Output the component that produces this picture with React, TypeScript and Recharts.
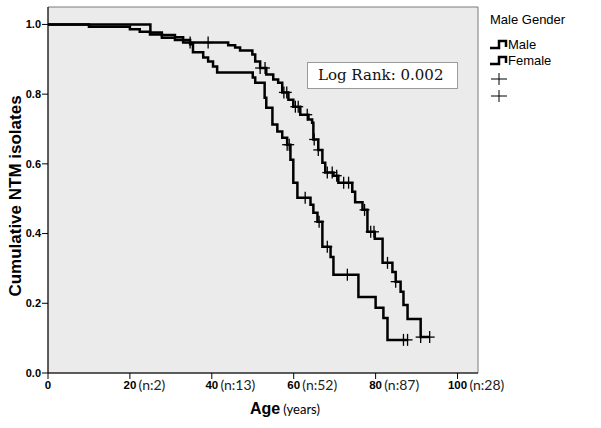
import React from "react";
import {
  ComposedChart,
  Line,
  Scatter,
  XAxis,
  YAxis,
  CartesianGrid,
  ReferenceArea,
} from "recharts";

// step points (age, cumulative value after the step)
const maleAges = [0, 10.0, 20.0, 22.4, 24.9, 27.8, 31.0, 34.7, 35.4, 37.9, 39.1, 40.3, 41.3, 50.0, 50.6, 52.9, 53.3, 54.8, 56.0, 57.2, 58.4, 59.2, 59.9, 60.9, 64.1, 64.8, 65.8, 67.0, 69.0, 69.7, 75.8, 80.0, 81.9, 82.9, 87.8];
const maleSurv = [1.0, 0.993, 0.986, 0.979, 0.971, 0.962, 0.955, 0.943, 0.92, 0.905, 0.894, 0.879, 0.862, 0.848, 0.833, 0.79, 0.761, 0.713, 0.693, 0.675, 0.655, 0.612, 0.546, 0.503, 0.483, 0.46, 0.434, 0.362, 0.333, 0.282, 0.218, 0.187, 0.158, 0.095, 0.095];
const maleCensored = [58.4, 58.9, 62.8, 66.2, 68.2, 73.1, 86.8, 87.8];

const femaleAges = [0, 25.0, 27.8, 31.0, 33.0, 44.0, 45.7, 46.9, 49.9, 50.6, 51.8, 53.3, 55.0, 56.2, 57.2, 58.7, 59.9, 61.6, 63.6, 64.5, 64.8, 66.0, 67.0, 67.7, 69.7, 70.9, 74.3, 75.0, 76.8, 78.0, 79.8, 81.7, 84.1, 84.9, 86.1, 86.8, 87.8, 91.0, 93.2];
const femaleSurv = [1.0, 0.977, 0.97, 0.963, 0.948, 0.94, 0.934, 0.925, 0.914, 0.894, 0.875, 0.856, 0.842, 0.833, 0.805, 0.784, 0.764, 0.741, 0.727, 0.718, 0.67, 0.64, 0.603, 0.575, 0.566, 0.546, 0.52, 0.49, 0.468, 0.405, 0.385, 0.316, 0.29, 0.262, 0.233, 0.195, 0.155, 0.103, 0.103];
const femaleCensored = [34.7, 39.1, 51.8, 53.0, 57.6, 58.3, 60.4, 61.1, 63.3, 65.0, 66.0, 68.2, 69.4, 70.5, 72.2, 73.4, 77.3, 78.8, 79.6, 82.9, 84.9, 91.0, 93.2];

const xTicks = [0, 20, 40, 60, 80, 100];
const xTickCounts = ["", "(n:2)", "(n:13)", "(n:52)", "(n:87)", "(n:28)"];
const yTicks = [0, 0.2, 0.4, 0.6, 0.8, 1.0];

const toRows = (ages: number[], surv: number[]) =>
  ages.map((a, i) => ({ a, s: surv[i] }));

// value of the step curve at a censored age
const stepAt = (ages: number[], surv: number[], t: number) => {
  let v = surv[0];
  ages.forEach((a, i) => {
    if (a <= t + 1e-9) v = surv[i];
  });
  return v;
};

const censorRows = (ages: number[], surv: number[], cens: number[]) =>
  cens.map((c) => ({ a: c, s: stepAt(ages, surv, c) }));

const maleData = toRows(maleAges, maleSurv);
const femaleData = toRows(femaleAges, femaleSurv);
const maleCens = censorRows(maleAges, maleSurv, maleCensored);
const femaleCens = censorRows(femaleAges, femaleSurv, femaleCensored);

const Cross = (props: any) => {
  const { cx, cy } = props;
  if (cx == null || cy == null) return null;
  return (
    <g stroke="#000" strokeWidth={1.3}>
      <line x1={cx - 5} x2={cx + 5} y1={cy} y2={cy} />
      <line x1={cx} x2={cx} y1={cy - 6} y2={cy + 6} />
    </g>
  );
};

const XTick = (props: any) => {
  const { x, y, payload } = props;
  const v = payload.value;
  const n = xTickCounts[xTicks.indexOf(v)];
  const half = String(v).length * 3.3;
  return (
    <g>
      <text x={x} y={y} dy="0.71em" textAnchor="middle" fontFamily="Arial, 'Liberation Sans'" fontWeight="bold" fontSize={11.5} fill="#000">
        {v}
      </text>
      {n ? (
        <text x={x + half + 2} y={y - 1} dy="0.71em" fontFamily="Lato" fontSize={14} fill="#222">
          {n}
        </text>
      ) : null}
    </g>
  );
};

const StepIcon = () => (
  <svg width={18} height={12} style={{ display: "block" }}>
    <path d="M0 9 H9 V2 H16 V8" fill="none" stroke="#000" strokeWidth={2.5} />
  </svg>
);

const PlusIcon = () => (
  <svg width={18} height={12} style={{ display: "block" }}>
    <line x1={1} x2={17} y1={6} y2={6} stroke="#000" strokeWidth={1} />
    <line x1={9} x2={9} y1={0} y2={12} stroke="#000" strokeWidth={1} />
  </svg>
);

export default function App() {
  return (
    <div
      style={{
        position: "absolute",
        left: 0,
        top: 0,
        width: 601,
        height: 428,
        background: "#fff",
        fontFamily: "Arial, 'Liberation Sans', sans-serif",
      }}
    >
      <ComposedChart
        width={601}
        height={428}
        margin={{ top: 7, right: 123, bottom: 30, left: 8 }}
      >
        <CartesianGrid horizontal={false} vertical={false} fill="#ebebeb" />
        <XAxis
          type="number"
          dataKey="a"
          domain={[0, 105]}
          ticks={xTicks}
          tick={<XTick />}
          tickSize={6}
          tickMargin={2}
          height={25}
          axisLine={{ stroke: "#000" }}
          tickLine={{ stroke: "#000" }}
          allowDataOverflow
        />
        <YAxis
          type="number"
          dataKey="s"
          domain={[0, 1.05]}
          ticks={yTicks}
          tickFormatter={(v: number) => v.toFixed(1)}
          tick={{ fill: "#000", fontSize: 11, fontWeight: "bold", fontFamily: "Arial, 'Liberation Sans'" }}
          tickSize={6}
          tickMargin={1}
          width={40}
          axisLine={{ stroke: "#000" }}
          tickLine={{ stroke: "#000" }}
          allowDataOverflow
        />
        <ReferenceArea x1={0} x2={105} y1={0} y2={1.05} fill="none" stroke="#7a7a7a" strokeWidth={1} />
        <Line data={maleData} dataKey="s" type="stepAfter" stroke="#000" strokeWidth={2.5} dot={false} isAnimationActive={false} />
        <Line data={femaleData} dataKey="s" type="stepAfter" stroke="#000" strokeWidth={2.5} dot={false} isAnimationActive={false} />
        <Scatter data={maleCens} dataKey="s" shape={<Cross />} isAnimationActive={false} />
        <Scatter data={femaleCens} dataKey="s" shape={<Cross />} isAnimationActive={false} />
      </ComposedChart>

      {/* y title */}
      <div
        style={{
          position: "absolute",
          left: 16,
          top: 196,
          transform: "translate(-50%, -50%) rotate(-90deg)",
          whiteSpace: "nowrap",
          fontWeight: "bold",
          fontSize: 17,
          color: "#000",
        }}
      >
        Cumulative NTM isolates
      </div>

      {/* x title */}
      <div
        style={{
          position: "absolute",
          left: 250,
          top: 400,
          whiteSpace: "nowrap",
          color: "#000",
        }}
      >
        <span style={{ fontWeight: "bold", fontSize: 16 }}>Age</span>
        <span style={{ fontFamily: "Lato", fontSize: 13, marginLeft: 3 }}>(years)</span>
      </div>

      {/* log rank box */}
      <div
        style={{
          position: "absolute",
          left: 307,
          top: 62,
          width: 151,
          height: 27,
          border: "1px solid #9a9a9a",
          background: "#fff",
          boxSizing: "border-box",
          fontFamily: "'DejaVu Serif', serif",
          fontSize: 15,
          lineHeight: "25px",
          paddingLeft: 10,
          color: "#111",
          whiteSpace: "nowrap",
        }}
      >
        Log Rank: 0.002
      </div>

      {/* legend */}
      <div style={{ position: "absolute", left: 490, top: 12, fontSize: 13, color: "#000" }}>
        <div style={{ whiteSpace: "nowrap" }}>Male Gender</div>
        <div style={{ display: "flex", alignItems: "center", marginTop: 10, height: 15 }}>
          <StepIcon />
          <span>Male</span>
        </div>
        <div style={{ display: "flex", alignItems: "center", marginTop: 1, height: 15 }}>
          <StepIcon />
          <span>Female</span>
        </div>
        <div style={{ marginTop: 5 }}>
          <PlusIcon />
        </div>
        <div style={{ marginTop: 5 }}>
          <PlusIcon />
        </div>
      </div>
    </div>
  );
}
